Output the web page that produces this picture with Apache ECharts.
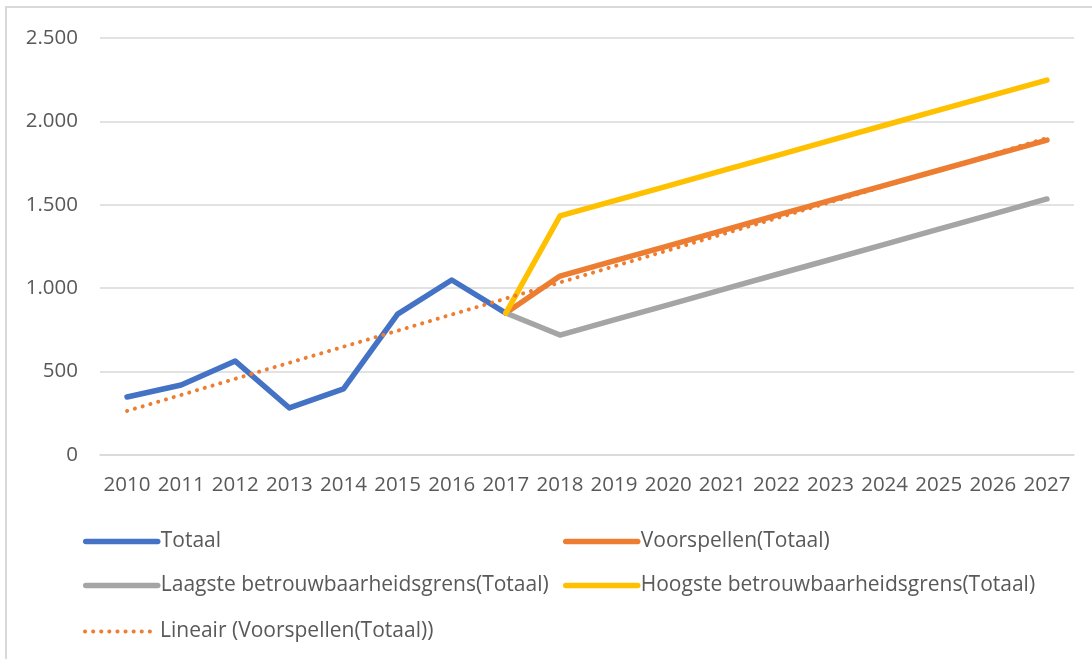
<!DOCTYPE html>
<html>
<head>
<meta charset="utf-8">
<script src="https://cdn.jsdelivr.net/npm/echarts@6/dist/echarts.min.js"></script>
<style>
html,body{margin:0;padding:0;background:#fff;}
#chart{width:1092px;height:659px;}
</style>
</head>
<body>
<div id="chart"></div>
<script>
const years = ['2010','2011','2012','2013','2014','2015','2016','2017','2018','2019','2020','2021','2022','2023','2024','2025','2026','2027'];
const totaal = [348, 420, 563, 282, 396, 845, 1049, 851, null, null, null, null, null, null, null, null, null, null];
const voorspellen = [null, null, null, null, null, null, null, 851, 1073, 1164, 1254, 1345, 1436, 1526, 1617, 1707, 1798, 1888];
const laagste = [null, null, null, null, null, null, null, 851, 719, 810, 900, 991, 1082, 1172, 1263, 1354, 1444, 1535];
const hoogste = [null, null, null, null, null, null, null, 851, 1433, 1524, 1614, 1705, 1795, 1886, 1977, 2067, 2158, 2248];
const lineair = [264, 360, 457, 553, 649, 745, 842, 938, 1034, 1131, 1227, 1323, 1419, 1516, 1612, 1708, 1804, 1900];
const names = ['Totaal', 'Voorspellen(Totaal)', 'Laagste betrouwbaarheidsgrens(Totaal)', 'Hoogste betrouwbaarheidsgrens(Totaal)', 'Lineair (Voorspellen(Totaal))'];
const colors = ['#4472C4', '#ED7D31', '#A5A5A5', '#FFC000', '#ED7D31'];

const FONT = 'Open Sans';
const TXT = '#595959';

function fmt(v){ return String(v).replace(/\B(?=(\d{3})+(?!\d))/g, '.'); }

const solidStyle = (c) => ({color: c, width: 5.5, cap: 'round', join: 'round'});
const dotStyle = (c) => ({color: c, width: 4, type: [0.1, 8], cap: 'round'});

function mkLegend(i, left, top){
  return {
    show: true, data: [names[i]], left: left, top: top, orient: 'horizontal',
    itemWidth: 72, itemHeight: 14, itemGap: 0, padding: 0,
    itemStyle: {opacity: 0},
    lineStyle: i === 4 ? dotStyle(colors[i]) : solidStyle(colors[i]),
    textStyle: {color: TXT, fontFamily: FONT, fontSize: 21, padding: [0,0,0,-2]},
    selectedMode: false
  };
}

const chart = echarts.init(document.getElementById('chart'));
const seriesData = [totaal, voorspellen, laagste, hoogste, lineair];
const series = seriesData.map((d, i) => ({
  name: names[i], type: 'line', data: d, symbol: 'none', connectNulls: false,
  lineStyle: i === 4 ? dotStyle(colors[i]) : solidStyle(colors[i]),
  itemStyle: {color: colors[i]},
  z: 2 + i, animation: false
}));

chart.setOption({
  animation: false,
  backgroundColor: '#fff',
  color: colors,
  graphic: [{type: 'rect', shape: {x: 6, y: 7, width: 1200, height: 800}, style: {fill: 'none', stroke: '#d9d9d9', lineWidth: 2}, silent: true, z: -1}],
  grid: {left: 100, right: 18, top: 38, bottom: 204, containLabel: false},
  xAxis: {
    type: 'category', data: years, boundaryGap: true,
    axisLine: {show: true, lineStyle: {color: '#d9d9d9', width: 1.5}},
    axisTick: {show: false},
    axisLabel: {color: TXT, fontFamily: FONT, fontSize: 20.5, margin: 20, interval: 0}
  },
  yAxis: {
    type: 'value', min: 0, max: 2500, interval: 500,
    axisLine: {show: false}, axisTick: {show: false},
    splitLine: {lineStyle: {color: '#d9d9d9', width: 1.5}},
    axisLabel: {color: TXT, fontFamily: FONT, fontSize: 20.5, margin: 22, formatter: fmt}
  },
  legend: [
    mkLegend(0, 83, 531),
    mkLegend(1, 563, 531),
    mkLegend(2, 83, 575),
    mkLegend(3, 563, 575),
    mkLegend(4, 83, 621)
  ],
  series: series
});
</script>
</body>
</html>
